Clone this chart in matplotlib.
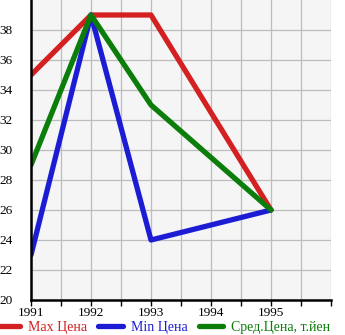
import matplotlib
matplotlib.use("Agg")
import matplotlib.pyplot as plt
from matplotlib.ticker import MultipleLocator

years = [1991, 1992, 1993, 1995]
max_price = [35, 39, 39, 26]
min_price = [23, 39, 24, 26]
avg_price = [29, 39, 33, 26]
labels = ["Max Цена", "Min Цена", "Сред.Цена, т.йен"]
colors = ["#d42020", "#1c1cd4", "#0a7d0a"]

plt.rcParams["font.family"] = ["Liberation Serif", "DejaVu Serif"]

fig = plt.figure(figsize=(3.45, 3.35), dpi=100)
ax = fig.add_axes([31 / 345, 35 / 335, 300 / 345, 300 / 335])
ax.set_facecolor("#f5f5f5")

for series, lab, col in zip([max_price, min_price, avg_price], labels, colors):
    ax.plot(years, series, color=col, lw=3.8, label=lab, solid_capstyle="round",
            solid_joinstyle="round")

ax.set_xlim(1991, 1996)
ax.set_ylim(20, 40)
ax.xaxis.set_minor_locator(MultipleLocator(0.5))
ax.set_xticks([1991, 1992, 1993, 1994, 1995])
ax.set_xticklabels(["1991", "1992", "1993", "1994", "1995"])
ax.set_yticks(range(20, 40, 2))
ax.grid(True, which="both", color="#bdbdbd", lw=0.9)
ax.set_axisbelow(True)

for s in ["top", "right"]:
    ax.spines[s].set_visible(False)
for s in ["left", "bottom"]:
    ax.spines[s].set_linewidth(1.8)
    ax.spines[s].set_color("black")

ax.tick_params(axis="both", which="both", labelsize=9.5, length=4, width=1)
ax.tick_params(axis="x", which="major", pad=1)
ax.tick_params(axis="y", which="both", length=0, pad=13)

leg = fig.legend(loc="center", bbox_to_anchor=(0.472, 0.022), ncol=3, frameon=False,
                 fontsize=10, handlelength=1.75, columnspacing=0.8, handletextpad=0.58,
                 borderaxespad=0, borderpad=0)
for t, c in zip(leg.get_texts(), colors):
    t.set_color(c)

fig.savefig("out.png", dpi=100)
